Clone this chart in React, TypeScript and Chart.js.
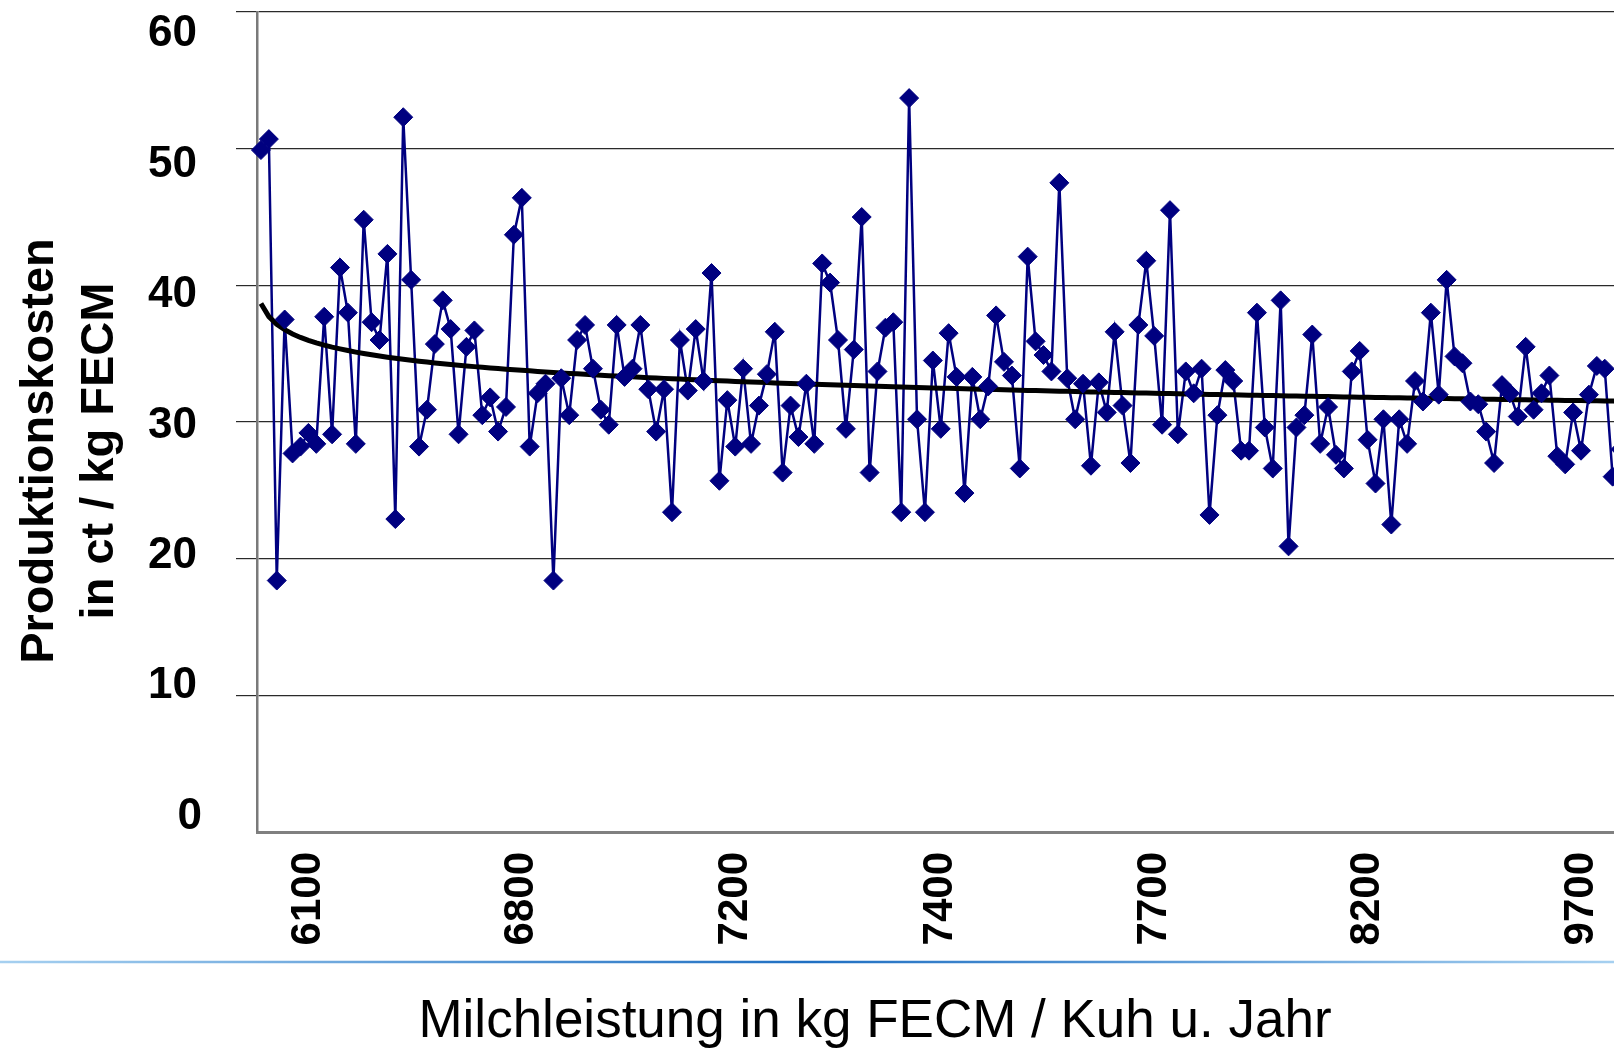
import { useEffect, useRef } from 'react';
import { Chart, registerables } from 'chart.js';

Chart.register(...registerables);

const FONT = '"Liberation Sans", Arial, Helvetica, sans-serif';

// Produktionskosten (ct / kg FECM), farms sorted by milk yield
const COSTS: number[] = [
  49.9, 50.7, 18.4, 37.5, 27.7, 28.2, 29.2, 28.4, 37.7, 29.1,
  41.3, 38.0, 28.4, 44.8, 37.3, 36.0, 42.3, 22.9, 52.3, 40.4,
  28.2, 30.9, 35.7, 38.9, 36.8, 29.1, 35.5, 36.7, 30.5, 31.8,
  29.3, 31.1, 43.7, 46.4, 28.2, 32.1, 32.8, 18.4, 33.2, 30.5,
  36.0, 37.1, 33.9, 30.9, 29.8, 37.1, 33.3, 33.9, 37.1, 32.4,
  29.3, 32.4, 23.4, 36.0, 32.3, 36.8, 33.0, 40.9, 25.7, 31.6,
  28.2, 33.9, 28.4, 31.2, 33.5, 36.6, 26.3, 31.2, 28.9, 32.8,
  28.4, 41.6, 40.2, 36.0, 29.5, 35.3, 45.0, 26.3, 33.7, 36.9,
  37.3, 23.4, 53.7, 30.2, 23.4, 34.5, 29.5, 36.5, 33.3, 24.8,
  33.3, 30.2, 32.6, 37.8, 34.4, 33.4, 26.6, 42.1, 35.9, 34.9,
  33.7, 47.5, 33.2, 30.2, 32.8, 26.8, 32.9, 30.7, 36.6, 31.2,
  27.0, 37.1, 41.8, 36.3, 29.8, 45.5, 29.1, 33.7, 32.1, 33.9,
  23.2, 30.5, 33.8, 33.0, 27.9, 27.9, 38.0, 29.6, 26.6, 38.9,
  20.9, 29.6, 30.5, 36.4, 28.4, 31.1, 27.6, 26.6, 33.7, 35.2,
  28.7, 25.5, 30.2, 22.5, 30.2, 28.4, 33.0, 31.5, 38.0, 32.0,
  40.4, 34.8, 34.3, 31.5, 31.3, 29.3, 27.0, 32.7, 32.1, 30.4,
  35.5, 30.9, 32.1, 33.4, 27.5, 26.9, 30.7, 27.9, 32.0, 34.1,
  33.9, 26.0, 28.0,
];

const TICK_LABELS: string[] = ['6100', '6800', '7200', '7400', '7700', '8200', '9700'];
const TICK_LABEL_INDEX: number[] = [6, 33, 60, 86, 113, 140, 167];
const Y_TICKS: number[] = [0, 10, 20, 30, 40, 50, 60];
const Y_TITLE: string[] = ['Produktionskosten', 'in ct / kg FECM'];
const X_TITLE = 'Milchleistung in kg FECM / Kuh u. Jahr';

const CATEGORIES: string[] = COSTS.map((_, i) => {
  const k = TICK_LABEL_INDEX.indexOf(i);
  return k >= 0 ? TICK_LABELS[k] : '';
});

// logarithmic least-squares trendline (as Excel's "log" trendline) fitted to COSTS
function logTrend(values: number[]): number[] {
  const n = values.length;
  let sx = 0, sy = 0, sxx = 0, sxy = 0;
  values.forEach((v, i) => {
    const x = Math.log(i + 1);
    sx += x; sy += v; sxx += x * x; sxy += x * v;
  });
  const b = (n * sxy - sx * sy) / (n * sxx - sx * sx);
  const a = (sy - b * sx) / n;
  return values.map((_, i) => a + b * Math.log(i + 1));
}

const TREND = logTrend(COSTS);

const decor = {
  id: 'decor',
  afterDraw(chart: any) {
    const ctx: CanvasRenderingContext2D = chart.ctx;
    const ys = chart.scales.y;
    const mid = (chart.chartArea.top + chart.chartArea.bottom) / 2;
    ctx.save();
    ctx.fillStyle = '#000';
    // y tick labels
    ctx.font = `bold 44px ${FONT}`;
    ctx.textAlign = 'right';
    ctx.textBaseline = 'alphabetic';
    for (const v of Y_TICKS) {
      const py = ys.getPixelForValue(v);
      const ly = mid + (py - mid) * 0.954;
      const lx = v < 10 ? 202 : 197;
      ctx.fillText(String(v), lx, ly + 15.5);
    }
    // y title
    ctx.font = `bold 47px ${FONT}`;
    ctx.textAlign = 'center';
    const cols = [53, 113];
    Y_TITLE.forEach((t, k) => {
      ctx.save();
      ctx.translate(cols[k], 451);
      ctx.rotate(-Math.PI / 2);
      ctx.fillText(t, 0, 0);
      ctx.restore();
    });
    // slide separator line
    const g = ctx.createLinearGradient(0, 0, 1614, 0);
    g.addColorStop(0, '#a6d0f0');
    g.addColorStop(0.5, '#1f6fc2');
    g.addColorStop(1, '#a6d0f0');
    ctx.strokeStyle = g;
    ctx.lineWidth = 2.5;
    ctx.beginPath();
    ctx.moveTo(0, 962);
    ctx.lineTo(1640, 962);
    ctx.stroke();
    // x title
    ctx.font = `53px ${FONT}`;
    ctx.textAlign = 'center';
    ctx.fillText(X_TITLE, 875, 1037);
    ctx.restore();
  },
};

export default function App() {
  const ref = useRef<HTMLCanvasElement>(null);
  useEffect(() => {
    const chart = new Chart(ref.current as HTMLCanvasElement, {
      type: 'line',
      data: {
        labels: CATEGORIES,
        datasets: [
          {
            label: 'markers',
            data: COSTS,
            showLine: false,
            pointStyle: 'rectRot',
            pointRadius: 9.5,
            pointBackgroundColor: '#000080',
            pointBorderColor: '#000080',
            pointBorderWidth: 1,
            order: 0,
          },
          {
            label: 'trend',
            data: TREND,
            borderColor: '#000000',
            borderWidth: 5,
            pointRadius: 0,
            order: 1,
          },
          {
            label: 'line',
            data: COSTS,
            borderColor: '#000080',
            borderWidth: 2.5,
            pointRadius: 0,
            order: 2,
          },
        ],
      },
      options: {
        responsive: false,
        animation: false,
        devicePixelRatio: 1,
        layout: { padding: { top: 12, left: 0, right: 0, bottom: 0 } },
        plugins: { legend: { display: false }, tooltip: { enabled: false } },
        scales: {
          x: {
            type: 'category',
            offset: true,
            grid: { display: false, drawTicks: false },
            border: { display: true, color: '#808080', width: 3 },
            ticks: {
              autoSkip: false,
              minRotation: 90,
              maxRotation: 90,
              padding: 20,
              color: '#000',
              font: { family: FONT, size: 42, weight: 'bold' },
            },
            afterFit: (s: any) => {
              s.height = 217;
              s.paddingLeft = 0;
              s.paddingRight = 0;
            },
          },
          y: {
            min: 0,
            max: 60,
            ticks: { stepSize: 10, display: false },
            grid: {
              color: '#2a2a2a',
              lineWidth: 1.2,
              drawTicks: true,
              tickLength: 21,
              tickColor: (c: any) => (c.tick && c.tick.value === 0 ? 'rgba(0,0,0,0)' : '#2a2a2a'),
            },
            border: { display: true, color: '#7a7a7a', width: 2.5 },
            afterFit: (s: any) => {
              s.width = 257;
              s.paddingTop = 0;
              s.paddingBottom = 0;
            },
          },
        },
      },
      plugins: [decor],
    } as any);
    return () => chart.destroy();
  }, []);
  return (
    <div
      style={{
        position: 'fixed',
        left: 0,
        top: 0,
        width: '100vw',
        height: '100vh',
        overflow: 'hidden',
        background: '#fff',
      }}
    >
      <canvas ref={ref} width={1635} height={1049} style={{ display: 'block', width: 1635, height: 1049 }} />
    </div>
  );
}
